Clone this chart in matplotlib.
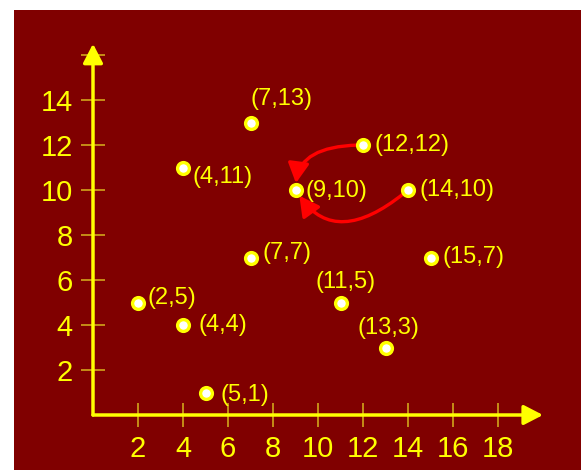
import matplotlib
matplotlib.use('Agg')
import matplotlib.pyplot as plt
from matplotlib.patches import FancyArrowPatch

# ---- data ----
xs = [7, 12, 4, 9, 14, 7, 15, 11, 2, 4, 13, 5]
ys = [13, 12, 11, 10, 10, 7, 7, 5, 5, 4, 3, 1]
xticks = [2, 4, 6, 8, 10, 12, 14, 16, 18]
yticks = [2, 4, 6, 8, 10, 12, 14, 16]
ytick_labels = ['2', '4', '6', '8', '10', '12', '14', '']
# curved arrows: from -> to
arrows_from = [(12, 12), (14, 10)]
arrows_to = [(9, 10), (9, 10)]

# ---- style ----
label_offsets = [(0, 17), (8.6, 0), (6.5, -7), (7, -1), (8.6, 0), (9, 3.5),
                 (9, 0), (3.5, 15), (7, 3), (10.8, 0), (2, 14), (10.8, -2)]
label_ha = ['left', 'left', 'left', 'left', 'left', 'left',
            'left', 'center', 'left', 'left', 'center', 'left']
arrow_styles = ['angle3,angleA=180,angleB=90',
                'angle3,angleA=-140,angleB=-58']

BG = '#800000'
YEL = '#ffff00'
TICKC = '#d8b41e'
plt.rcParams['font.family'] = ['Liberation Sans', 'DejaVu Sans']

fig = plt.figure(figsize=(5.81, 4.70), dpi=100, facecolor='white')
W, H = 581, 470
left_px, top_px = 14, 10
ax = fig.add_axes([left_px / W, 0, (W - left_px) / W, (H - top_px) / H])
ax.set_facecolor(BG)
ox, oy, s = 93, 415, 22.5
ax.set_xlim((left_px - ox) / s, (W - ox) / s)
ax.set_ylim((oy - H) / s, (oy - top_px) / s)

for sp in ax.spines.values():
    sp.set_visible(False)
ax.spines['left'].set_position(('data', 0))
ax.spines['bottom'].set_position(('data', 0))

ax.set_xticks(xticks)
ax.set_xticklabels([str(t) for t in xticks])
ax.set_yticks(yticks)
ax.set_yticklabels(ytick_labels)
ax.tick_params(direction='inout', length=17, width=1.1, color=TICKC,
               labelcolor=YEL, labelsize=21, pad=6)

# axis arrows
for end in [(20, 0), (0, 16.5)]:
    ax.annotate('', xy=end, xytext=(0, 0),
                arrowprops=dict(arrowstyle='-|>,head_length=0.58,head_width=0.3',
                                color=YEL, lw=2.5, mutation_scale=20,
                                shrinkA=0, shrinkB=0), zorder=3)

# curved red arrows
for (fx, fy), (tx, ty), cs in zip(arrows_from, arrows_to, arrow_styles):
    arr = FancyArrowPatch((fx, fy), (tx, ty), connectionstyle=cs,
                          arrowstyle='-|>,head_length=0.6,head_width=0.32',
                          mutation_scale=20, color='#ff0000', lw=2.4,
                          shrinkA=4, shrinkB=5, zorder=4)
    ax.add_patch(arr)

# points
ax.plot(xs, ys, 'o', ms=8.5, mfc='white', mec=YEL, mew=2.4, zorder=5,
        clip_on=False)

for x, y, off, ha in zip(xs, ys, label_offsets, label_ha):
    ax.annotate(f'({x},{y})', (x, y), xytext=off, textcoords='offset points',
                ha=ha, va='center', color=YEL, fontsize=17, zorder=6)

fig.savefig('out.png', dpi=100, facecolor='white')
